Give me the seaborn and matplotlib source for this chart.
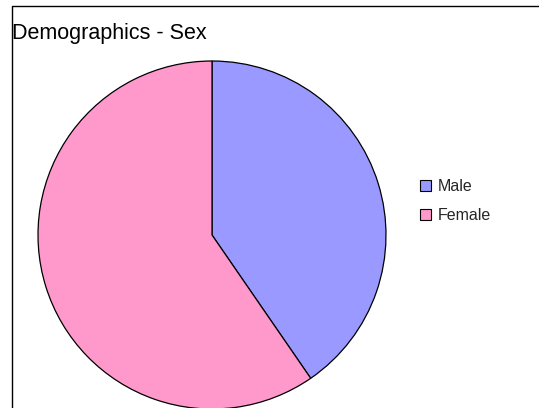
import matplotlib
matplotlib.use("Agg")
import matplotlib.pyplot as plt
import seaborn as sns
from matplotlib.lines import Line2D

categories = ["Male", "Female"]
values = [40.4, 59.6]
colors = ["#9999FF", "#FF99CC"]
title = "Demographics - Sex"

sns.set_theme(style="white")
plt.rcParams["font.family"] = ["Liberation Sans", "DejaVu Sans"]

W, H = 539, 408
fig = plt.figure(figsize=(W / 100, H / 100), dpi=100)
fig.patch.set_facecolor("white")
ax = fig.add_axes([0, 0, 1, 1])
ax.set_xlim(0, W)
ax.set_ylim(0, H)
ax.set_aspect("equal")
ax.axis("off")

wedges, _ = ax.pie(values, colors=colors, startangle=90, counterclock=False,
                   center=(212, H - 235), radius=174,
                   wedgeprops=dict(edgecolor="black", linewidth=0.9))
ax.set_xlim(0, W)
ax.set_ylim(0, H)

# chart area border (left and top edges visible)
fig.lines.append(Line2D([11.5 / W, 11.5 / W, 1.0], [0, 1 - 5.5 / H, 1 - 5.5 / H],
                        transform=fig.transFigure, color="black", linewidth=1.0))

fig.text(12 / W, 1 - 34 / H, title, fontsize=15.5, ha="left", va="center", color="black")

leg = fig.legend(wedges, categories, loc="center left",
                 bbox_to_anchor=(414 / W, 1 - 201 / H), frameon=False,
                 fontsize=11.5, handlelength=0.65, handleheight=0.65,
                 handletextpad=0.45, labelspacing=0.85, borderaxespad=0)
for h in leg.legend_handles:
    h.set_edgecolor("black")
    h.set_linewidth(0.8)

fig.savefig("out.png", dpi=100)
